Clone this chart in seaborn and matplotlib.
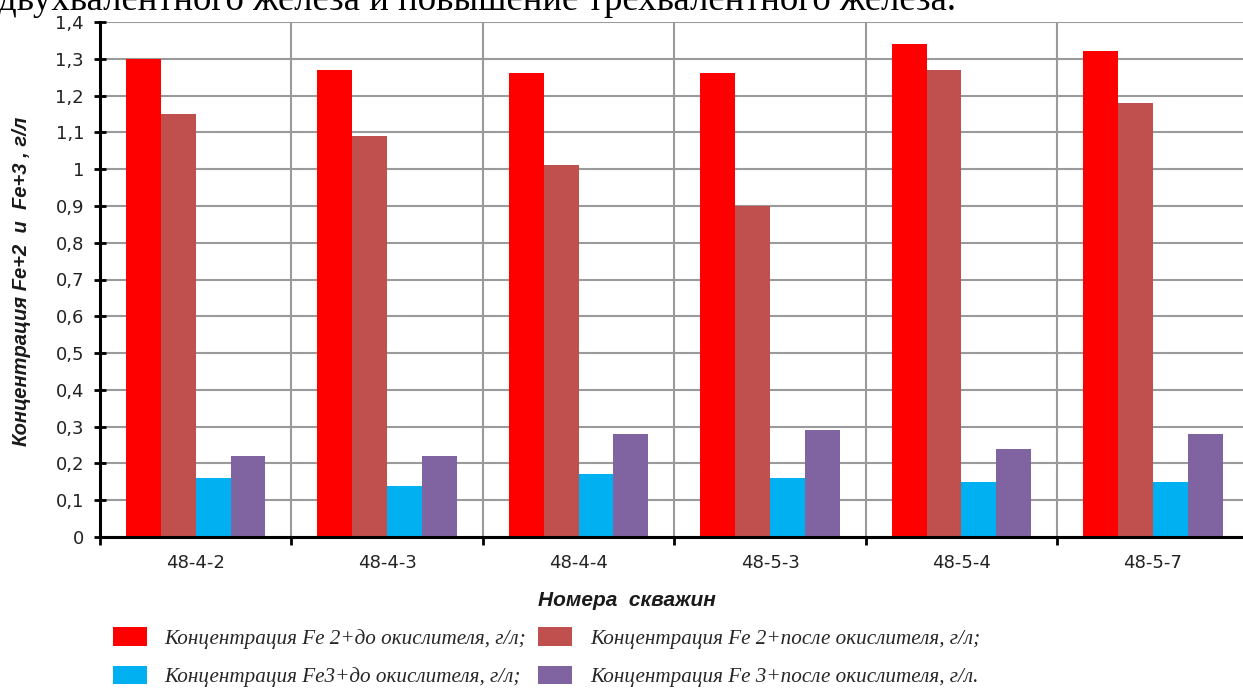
import matplotlib
matplotlib.use("Agg")
import matplotlib.pyplot as plt
import numpy as np
import pandas as pd
import seaborn as sns
from matplotlib.ticker import FixedLocator, FuncFormatter

# Well numbers and iron concentrations, g/l
wells = ["48-4-2", "48-4-3", "48-4-4", "48-5-3", "48-5-4", "48-5-7"]
fe2_before = [1.30, 1.27, 1.26, 1.26, 1.34, 1.32]
fe2_after = [1.15, 1.09, 1.01, 0.90, 1.27, 1.18]
fe3_before = [0.16, 0.14, 0.17, 0.16, 0.15, 0.15]
fe3_after = [0.22, 0.22, 0.28, 0.29, 0.24, 0.28]

series_names = [
    "Концентрация Fe 2+до окислителя, г/л;",
    "Концентрация Fe 2+после окислителя, г/л;",
    "Концентрация Fe3+до окислителя, г/л;",
    "Концентрация Fe 3+после окислителя, г/л.",
]
series_colors = ["#FF0000", "#C0504D", "#00B0F0", "#8064A2"]
series_values = [fe2_before, fe2_after, fe3_before, fe3_after]

y_ticks = [0, 0.1, 0.2, 0.3, 0.4, 0.5, 0.6, 0.7, 0.8, 0.9, 1.0, 1.1, 1.2, 1.3, 1.4]

df = pd.DataFrame({
    "well": np.repeat([wells], len(series_names), axis=0).ravel(),
    "series": np.repeat(series_names, len(wells)),
    "value": np.concatenate(series_values),
})

sns.set_theme(style="white")
plt.rcParams["font.family"] = ["DejaVu Sans"]

W, H = 1243, 688
fig = plt.figure(figsize=(W / 100, H / 100), dpi=100)
ax = fig.add_axes([100 / W, 1 - 537 / H, 1148.6 / W, 515 / H])

sns.barplot(
    data=df, x="well", y="value", hue="series", order=wells,
    hue_order=series_names, palette=series_colors, width=0.728, gap=0,
    dodge=True, saturation=1, linewidth=0,
    legend=True, ax=ax, zorder=3,
)

ax.set_xlim(-0.5, len(wells) - 0.5)
ax.set_ylim(0, 1.4)

# Horizontal gridlines at every 0.1, vertical separators between wells
ax.yaxis.set_major_locator(FixedLocator(y_ticks))
ax.yaxis.set_major_formatter(FuncFormatter(
    lambda v, p: ("%g" % round(v, 1)).replace(".", ",")))
ax.xaxis.set_minor_locator(FixedLocator(np.arange(-0.5, len(wells), 1.0)))
ax.grid(axis="y", which="major", color="#9A9A9A", linewidth=1.5, zorder=0)
ax.grid(axis="x", which="minor", color="#9A9A9A", linewidth=1.5, zorder=0)
ax.grid(axis="x", which="major", visible=False)
ax.set_axisbelow(True)

for side in ["top", "right"]:
    ax.spines[side].set_visible(False)
for side in ["left", "bottom"]:
    ax.spines[side].set_color("black")
    ax.spines[side].set_linewidth(2.2)
    ax.spines[side].set_zorder(4)

ax.tick_params(axis="x", which="major", length=0, pad=12.5,
               labelsize=13, labelcolor="#222222")
ax.tick_params(axis="x", which="minor", direction="out", length=6,
               width=2, color="black", bottom=True)
ax.tick_params(axis="y", which="major", direction="inout", length=9,
               width=2, color="black", left=True, pad=7,
               labelsize=13, labelcolor="#222222")
ax.set_xlabel("")
ax.set_ylabel("")

fig.text(22 / W, 1 - 281 / H, "Концентрация Fe+2  и  Fe+3 , г/л",
         rotation=90, ha="center", va="center", fontsize=14.5,
         fontweight="bold", fontstyle="italic", family="Liberation Sans",
         color="#1a1a1a")
fig.text(627 / W, 1 - 600 / H, "Номера  скважин", ha="center",
         va="center", fontsize=15, fontweight="bold", fontstyle="italic",
         family="Liberation Sans", color="#1a1a1a")

# Sentence from the surrounding document text, running off the top edge
fig.text(-0.002, 1 - 10 / H,
         "двухвалентного железа и повышение трехвалентного железа.",
         ha="left", va="baseline", fontsize=26.5, family="Liberation Serif",
         color="black")

handles, labels = ax.get_legend_handles_labels()
ax.get_legend().remove()
order = [0, 2, 1, 3]
fig.legend(
    [handles[i] for i in order], [labels[i] for i in order],
    loc="upper left", bbox_to_anchor=(113 / W, 1 - 627 / H), ncol=2,
    frameon=False, borderpad=0, borderaxespad=0,
    handlelength=1.6, handleheight=1.0, handletextpad=0.85,
    labelspacing=0.8, columnspacing=0.57,
    prop={"family": "Liberation Serif", "style": "italic", "size": 15.2},
)

fig.savefig("out.png", dpi=100)
